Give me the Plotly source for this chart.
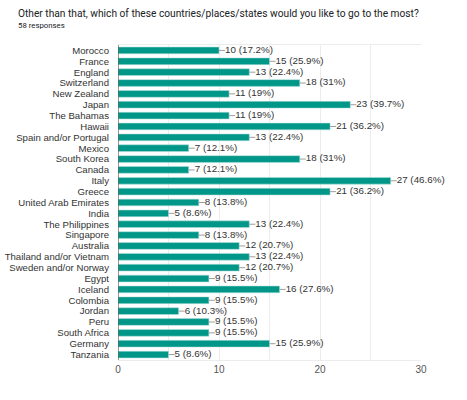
import plotly.graph_objects as go

places = ["Morocco", "France", "England", "Switzerland", "New Zealand", "Japan",
          "The Bahamas", "Hawaii", "Spain and/or Portugal", "Mexico", "South Korea",
          "Canada", "Italy", "Greece", "United Arab Emirates", "India",
          "The Philippines", "Singapore", "Australia", "Thailand and/or Vietnam",
          "Sweden and/or Norway", "Egypt", "Iceland", "Colombia", "Jordan", "Peru",
          "South Africa", "Germany", "Tanzania"]
counts = [10, 15, 13, 18, 11, 23, 11, 21, 13, 7, 18, 7, 27, 21, 8, 5, 13, 8, 12,
          13, 12, 9, 16, 9, 6, 9, 9, 15, 5]
percents = ["17.2", "25.9", "22.4", "31", "19", "39.7", "19", "36.2", "22.4", "12.1",
            "31", "12.1", "46.6", "36.2", "13.8", "8.6", "22.4", "13.8", "20.7", "22.4",
            "20.7", "15.5", "27.6", "15.5", "10.3", "15.5", "15.5", "25.9", "8.6"]
tick_vals = [0, 5, 10, 15, 20, 25, 30]
tick_text = ["0", "", "10", "", "20", "", "30"]

TEAL = "rgb(0,150,136)"
PW = 467 - 118 - 46
PH = 400 - 45 - 40

fig = go.Figure()
fig.add_trace(go.Bar(
    x=counts, y=places, orientation="h", width=0.62,
    marker=dict(color=TEAL, line=dict(color="rgba(180,225,220,0.9)", width=0.6)),
    hoverinfo="skip",
))

# leader lines
lx, ly = [], []
for v, p in zip(counts, places):
    lx += [v, v + 0.6, None]
    ly += [p, p, None]
fig.add_trace(go.Scatter(x=lx, y=ly, mode="lines",
                         line=dict(color="#9e9e9e", width=1), hoverinfo="skip"))
fig.add_trace(go.Scatter(
    x=[v + 0.6 for v in counts], y=places, mode="text",
    text=[f"{v} ({p}%)" for v, p in zip(counts, percents)],
    textposition="middle right",
    textfont=dict(family="Liberation Sans, Arial", size=9.8, color="#333333"),
    hoverinfo="skip", cliponaxis=False,
))

fig.update_layout(
    width=467, height=400,
    margin=dict(l=118, r=46, t=45, b=40),
    paper_bgcolor="white", plot_bgcolor="white",
    showlegend=False,
    font=dict(family="Liberation Sans, Arial", size=10, color="#333333"),
    annotations=[
        dict(text="Other than that, which of these countries/places/states would you like to go to the most?",
             xref="paper", yref="paper", x=-102 / PW, y=1 + 31 / PH, xanchor="left", yanchor="middle",
             showarrow=False, font=dict(family="Roboto, Liberation Sans", size=10.2, color="#202124")),
        dict(text="58 responses",
             xref="paper", yref="paper", x=-102 / PW, y=1 + 19 / PH, xanchor="left", yanchor="middle",
             showarrow=False, font=dict(family="Roboto, Liberation Sans", size=7.8, color="#202124")),
    ],
)
fig.update_xaxes(range=[0, 30], tickvals=tick_vals, ticktext=tick_text,
                 showgrid=True, gridcolor="#ececec", gridwidth=1,
                 zeroline=False, showline=True, linecolor="#ececec", mirror=True,
                 tickfont=dict(size=10, color="#555555"), ticks="", ticklen=0,
                 automargin=False)
fig.update_yaxes(range=[len(places) - 0.5, -0.5], showgrid=False, showline=False, zeroline=False,
                 tickmode="linear", dtick=1, ticklabelstandoff=8, automargin=False,
                 tickfont=dict(size=9.6, color="#333333"), ticks="")
fig.add_shape(type="line", xref="x", yref="paper", x0=0, x1=0, y0=0, y1=1,
              line=dict(color="#555555", width=1.2))

fig.write_html("out.html")
